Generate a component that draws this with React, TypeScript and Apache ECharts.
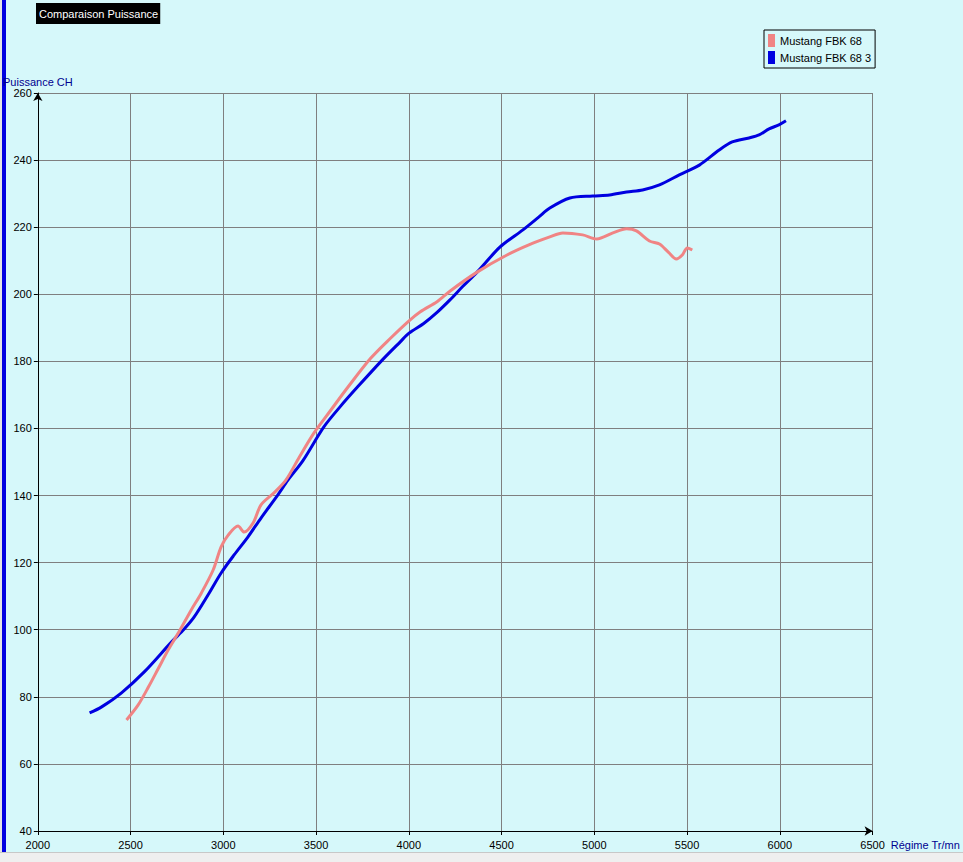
import React, { useEffect, useRef } from "react";
import * as echarts from "echarts";

const chartTitle = "Comparaison Puissance";
const seriesNames = ["Mustang FBK 68", "Mustang FBK 68 3"];
const xAxisName = "Régime Tr/mn";
const yAxisName = "Puissance CH";

// Mustang FBK 68 (pink)
const pinkRpm = [
  2478, 2540, 2596, 2650, 2703, 2757, 2827, 2881, 2945, 2988, 3026, 3079, 3112,
  3160, 3203, 3273, 3337, 3410, 3488, 3580, 3670, 3794, 3901, 4001, 4062,
  4152, 4223, 4368, 4529, 4650, 4760, 4830, 4937, 5013, 5100, 5174, 5227, 5297,
  5351, 5400, 5442, 5474, 5501, 5528,
];
const pinkPower = [
  73.1, 77.5, 82.9, 88.5, 94.0, 99.0, 105.9, 110.9, 117.8, 124.7, 128.2, 130.9,
  129.1, 131.8, 137.2, 140.8, 144.6, 151.5, 158.6, 165.5, 172.2, 180.9,
  186.9, 192.1, 194.8, 197.8, 201.0, 206.6, 211.7, 214.8, 217.1, 218.3, 217.7,
  216.5, 218.3, 219.5, 218.9, 215.9, 215.0, 212.5, 210.5, 211.7, 213.8, 213.2,
];

// Mustang FBK 68 3 (blue)
const blueRpm = [
  2279, 2344, 2451, 2575, 2720, 2789, 2843, 2918, 2988, 3058, 3133, 3203, 3294,
  3348, 3430, 3541, 3630, 3724, 3860, 3955, 4001, 4080, 4152, 4223, 4290,
  4368, 4492, 4615, 4700, 4760, 4868, 4991, 5082, 5174, 5260, 5351, 5458, 5566,
  5673, 5743, 5834, 5888, 5942, 5995, 6033,
];
const bluePower = [
  75.2, 77.0, 81.2, 87.5, 96.3, 100.2, 103.8, 110.4, 116.9, 122.3, 127.7, 133.3,
  140.2, 144.6, 150.5, 160.4, 166.5, 172.4, 180.6, 185.9, 188.4, 191.3,
  194.6, 198.4, 202.3, 206.6, 214.1, 219.2, 223.0, 225.7, 228.7, 229.3, 229.6,
  230.5, 231.1, 232.6, 235.6, 238.5, 243.0, 245.4, 246.6, 247.5, 249.3, 250.5,
  251.7,
];

const xMin = 2000;
const xMax = 6500;
const xStep = 500;
const yMin = 40;
const yMax = 260;
const yStep = 20;

const BG = "#d6f8fa";
const FONT = "Liberation Sans, Arial, sans-serif";

export default function App() {
  const ref = useRef<HTMLDivElement>(null);

  useEffect(() => {
    document.body.style.margin = "0";
    const chart = echarts.init(ref.current as HTMLDivElement, null, {
      renderer: "svg",
    });
    const pinkData = pinkRpm.map((r, i) => [r, pinkPower[i]]);
    const blueData = blueRpm.map((r, i) => [r, bluePower[i]]);

    chart.setOption({
      animation: false,
      backgroundColor: BG,
      textStyle: { fontFamily: FONT },
      title: {
        text: chartTitle,
        left: 36,
        top: 3,
        backgroundColor: "#000",
        padding: [5, 2, 5, 3],
        textStyle: {
          color: "#fff",
          fontSize: 11,
          fontWeight: "normal",
          fontFamily: FONT,
        },
      },
      legend: {
        data: seriesNames,
        orient: "vertical",
        left: 764,
        top: 30,
        padding: [4, 4, 4, 4],
        itemGap: 4,
        itemWidth: 7,
        itemHeight: 13,
        icon: "rect",
        borderColor: "#000",
        borderWidth: 1,
        borderRadius: 0,
        backgroundColor: BG,
        textStyle: { fontSize: 11, color: "#000", fontFamily: FONT },
      },
      grid: { left: 36, top: 93, width: 838, height: 738, containLabel: false },
      xAxis: {
        type: "value",
        min: xMin,
        max: xMax,
        interval: xStep,
        name: xAxisName,
        nameLocation: "end",
        nameGap: 16,
        nameTextStyle: {
          color: "#000090",
          fontSize: 11,
          align: "left",
          verticalAlign: "top",
          padding: [8, 0, 0, 0],
          fontFamily: FONT,
        },
        axisLine: {
          show: true,
          lineStyle: { color: "#000", width: 1 },
          symbol: ["none", "arrow"],
          symbolSize: [7, 8],
        },
        axisTick: { show: true, length: 4, lineStyle: { color: "#000" } },
        axisLabel: {
          color: "#000",
          fontSize: 11,
          margin: 8,
          fontFamily: FONT,
          formatter: (v: number) => String(v),
        },
        splitLine: { show: true, lineStyle: { color: "#7f7f7f", width: 1 } },
      },
      yAxis: {
        type: "value",
        min: yMin,
        max: yMax,
        interval: yStep,
        name: yAxisName,
        nameLocation: "end",
        nameGap: 11,
        nameTextStyle: {
          color: "#000090",
          fontSize: 11,
          align: "center",
          verticalAlign: "middle",
          fontFamily: FONT,
        },
        axisLine: {
          show: true,
          lineStyle: { color: "#000", width: 1 },
          symbol: ["none", "arrow"],
          symbolSize: [7, 8],
        },
        axisTick: { show: true, length: 4, lineStyle: { color: "#000" } },
        axisLabel: {
          color: "#000",
          fontSize: 11,
          margin: 6,
          fontFamily: FONT,
          formatter: (v: number) => String(v),
        },
        splitLine: { show: true, lineStyle: { color: "#7f7f7f", width: 1 } },
      },
      series: [
        {
          name: seriesNames[0],
          type: "line",
          data: pinkData,
          showSymbol: false,
          symbol: "none",
          smooth: 0.3,
          z: 3,
          color: "#f08484",
          lineStyle: { color: "#f08484", width: 3 },
        },
        {
          name: seriesNames[1],
          type: "line",
          data: blueData,
          showSymbol: false,
          symbol: "none",
          smooth: 0.3,
          z: 2,
          color: "#0000e0",
          lineStyle: { color: "#0000e0", width: 3 },
        },
      ],
      graphic: [
        {
          type: "rect",
          left: 0,
          top: 852,
          shape: { width: 963, height: 10 },
          style: { fill: "#efefef" },
          silent: true,
        },
        {
          type: "line",
          shape: { x1: 0, y1: 852.5, x2: 963, y2: 852.5 },
          style: { stroke: "#c8c8c8", lineWidth: 1 },
          silent: true,
        },
        {
          type: "rect",
          left: 0,
          top: 0,
          shape: { width: 2, height: 852 },
          style: { fill: "#e4e4e4" },
          silent: true,
        },
        {
          type: "rect",
          left: 2,
          top: 0,
          shape: { width: 4, height: 852 },
          style: { fill: "#0000e0" },
          silent: true,
        },
      ],
    });

    return () => chart.dispose();
  }, []);

  return <div ref={ref} style={{ width: 963, height: 862 }} />;
}
